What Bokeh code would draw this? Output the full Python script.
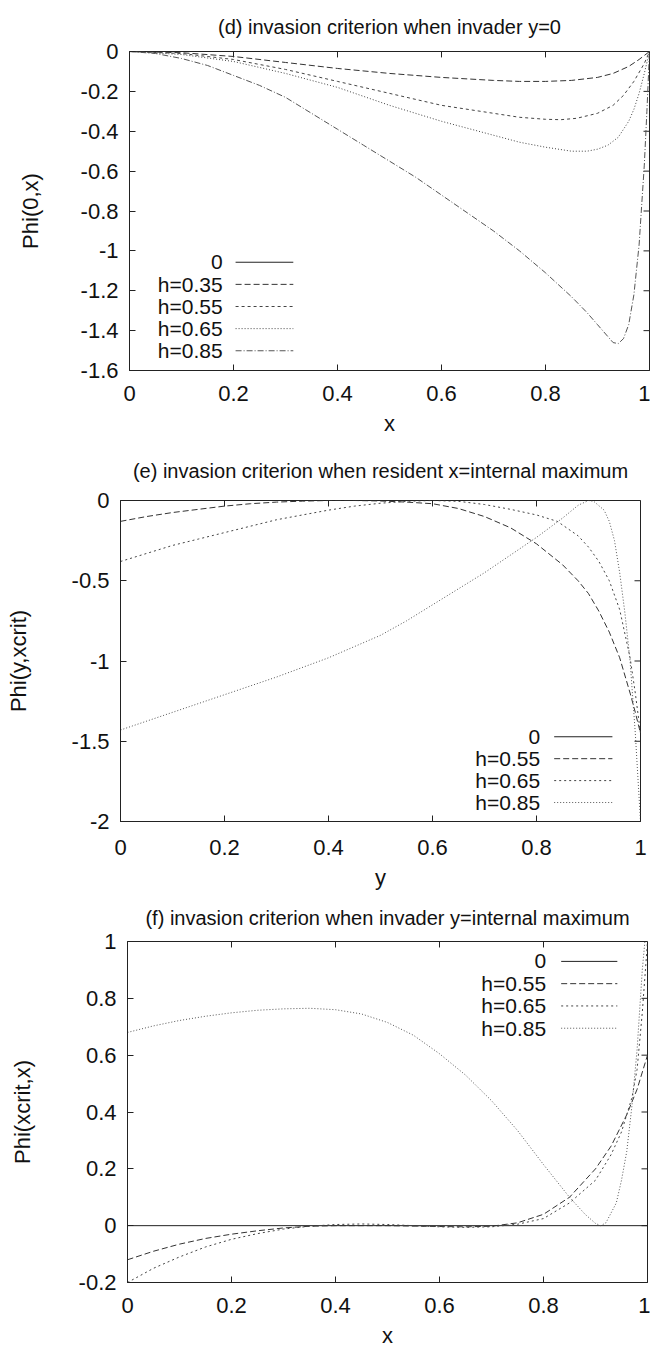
from bokeh.plotting import figure
from bokeh.models import Label, Range1d, FixedTicker, Arrow
from bokeh.embed import file_html
from bokeh.resources import INLINE

FONT = "Liberation Sans"
TITLE_FS = "20px"
TICK_FS = "22px"
LEG_FS = "21px"
AXLAB_FS = "22px"
FIG_W = 650

# ---------------- panel (d): Phi(0,x) ----------------
d_x_zero = [0.0, 1.0]
d_y_zero = [0.0, 0.0]
d_x_h035 = [0.0, 0.1, 0.2, 0.3, 0.4, 0.5, 0.6, 0.7, 0.75, 0.8, 0.85, 0.9, 0.93, 0.96, 0.98, 1.0]
d_y_h035 = [0.0, -0.006, -0.025, -0.055, -0.085, -0.11, -0.13, -0.145, -0.15, -0.15, -0.145, -0.13, -0.11, -0.075, -0.04, 0.0]
d_x_h055 = [0.0, 0.1, 0.2, 0.3, 0.4, 0.5, 0.6, 0.7, 0.75, 0.8, 0.83, 0.86, 0.9, 0.93, 0.95, 0.97, 0.99, 1.0]
d_y_h055 = [0.0, -0.01, -0.04, -0.09, -0.15, -0.21, -0.27, -0.31, -0.33, -0.34, -0.342, -0.335, -0.31, -0.27, -0.22, -0.15, -0.06, 0.0]
d_x_h065 = [0.0, 0.1, 0.2, 0.3, 0.4, 0.5, 0.6, 0.7, 0.75, 0.8, 0.85, 0.88, 0.9, 0.92, 0.94, 0.96, 0.97, 0.98, 0.99, 1.0]
d_y_h065 = [0.0, -0.015, -0.05, -0.11, -0.18, -0.27, -0.35, -0.42, -0.455, -0.48, -0.5, -0.5, -0.49, -0.47, -0.43, -0.35, -0.29, -0.21, -0.11, 0.0]
d_x_h085 = [0.0, 0.05, 0.1, 0.15, 0.2, 0.25, 0.3, 0.35, 0.4, 0.45, 0.5, 0.55, 0.6, 0.65, 0.7, 0.75, 0.8, 0.85,
            0.88, 0.9, 0.92, 0.93, 0.94, 0.95, 0.96, 0.97, 0.98, 0.99, 0.995, 1.0]
d_y_h085 = [0.0, -0.01, -0.035, -0.07, -0.12, -0.17, -0.23, -0.31, -0.39, -0.47, -0.55, -0.63, -0.72, -0.81, -0.9, -1.0, -1.11, -1.23,
            -1.31, -1.37, -1.43, -1.46, -1.465, -1.44, -1.37, -1.22, -0.97, -0.57, -0.3, 0.0]
d_labels = ["0", "h=0.35", "h=0.55", "h=0.65", "h=0.85"]
d_yticks = [0, -0.2, -0.4, -0.6, -0.8, -1, -1.2, -1.4, -1.6]

# ---------------- panel (e): Phi(y,xcrit) ----------------
e_x_zero = [0.0, 1.0]
e_y_zero = [0.0, 0.0]
e_x_h055 = [0.0, 0.05, 0.1, 0.15, 0.2, 0.25, 0.3, 0.35, 0.4, 0.45, 0.5, 0.55, 0.6, 0.65, 0.7, 0.75, 0.8, 0.85,
            0.88, 0.9, 0.92, 0.94, 0.96, 0.98, 0.99, 1.0]
e_y_h055 = [-0.13, -0.1, -0.075, -0.055, -0.035, -0.02, -0.01, -0.004, 0.0, 0.0, -0.003, -0.01, -0.02, -0.05, -0.1, -0.17, -0.27, -0.4,
            -0.5, -0.58, -0.69, -0.82, -0.98, -1.2, -1.32, -1.45]
e_x_h065 = [0.0, 0.05, 0.1, 0.15, 0.2, 0.25, 0.3, 0.35, 0.4, 0.45, 0.5, 0.55, 0.6, 0.65, 0.7, 0.75, 0.8, 0.84,
            0.88, 0.9, 0.92, 0.94, 0.96, 0.98, 0.99, 1.0]
e_y_h065 = [-0.38, -0.33, -0.28, -0.24, -0.2, -0.16, -0.12, -0.09, -0.06, -0.035, -0.017, -0.005, 0.0, -0.005, -0.025, -0.055, -0.09, -0.13,
            -0.22, -0.29, -0.38, -0.5, -0.68, -0.98, -1.2, -1.45]
e_x_h085 = [0.0, 0.1, 0.2, 0.3, 0.4, 0.5, 0.55, 0.6, 0.65, 0.7, 0.75, 0.8, 0.85, 0.88, 0.9, 0.91, 0.93, 0.94, 0.95,
            0.96, 0.97, 0.98, 0.99, 1.0]
e_y_h085 = [-1.43, -1.32, -1.21, -1.1, -0.98, -0.84, -0.75, -0.65, -0.55, -0.45, -0.34, -0.23, -0.11, -0.03, 0.0, -0.005, -0.06, -0.13, -0.25,
            -0.45, -0.7, -1.0, -1.45, -2.0]
e_labels = ["0", "h=0.55", "h=0.65", "h=0.85"]
e_yticks = [0, -0.5, -1, -1.5, -2]

# ---------------- panel (f): Phi(xcrit,x) ----------------
f_x_zero = [0.0, 1.0]
f_y_zero = [0.0, 0.0]
f_x_h055 = [0.0, 0.05, 0.1, 0.15, 0.2, 0.25, 0.3, 0.35, 0.4, 0.5, 0.6, 0.65, 0.7, 0.75, 0.8, 0.85, 0.9, 0.93, 0.96, 0.98, 1.0]
f_y_h055 = [-0.12, -0.09, -0.065, -0.045, -0.03, -0.018, -0.008, -0.002, 0.0, 0.0, -0.003, -0.004, -0.002, 0.01, 0.04, 0.1, 0.2, 0.28, 0.39, 0.48, 0.6]
f_x_h065 = [0.0, 0.05, 0.1, 0.15, 0.2, 0.25, 0.3, 0.35, 0.4, 0.45, 0.5, 0.55, 0.6, 0.65, 0.7, 0.75, 0.8, 0.85, 0.9, 0.93,
            0.95, 0.97, 0.98, 0.99, 1.0]
f_y_h065 = [-0.2, -0.15, -0.11, -0.075, -0.048, -0.028, -0.012, -0.002, 0.004, 0.006, 0.004, 0.0, -0.004, -0.006, -0.004, 0.005, 0.025, 0.08, 0.16, 0.25,
            0.33, 0.45, 0.55, 0.75, 1.0]
f_x_h085 = [0.0, 0.05, 0.1, 0.15, 0.2, 0.25, 0.3, 0.35, 0.4, 0.45, 0.5, 0.55, 0.6, 0.65, 0.7, 0.75, 0.8, 0.85, 0.88, 0.9,
            0.91, 0.92, 0.94, 0.95, 0.96, 0.97, 0.98, 0.99, 0.995]
f_y_h085 = [0.68, 0.703, 0.722, 0.737, 0.749, 0.758, 0.763, 0.765, 0.76, 0.745, 0.715, 0.67, 0.605, 0.53, 0.44, 0.335, 0.215, 0.1, 0.04, 0.008,
            0.0, 0.01, 0.08, 0.16, 0.26, 0.42, 0.62, 0.9, 1.0]
f_labels = ["0", "h=0.55", "h=0.65", "h=0.85"]
f_yticks = [1, 0.8, 0.6, 0.4, 0.2, 0, -0.2]

xticks = [0, 0.2, 0.4, 0.6, 0.8, 1]

TICK_LEN = 6  # px, gnuplot-style inward ticks


def make_panel(title, xlabel, ylabel, yrange, yticks, series, labels, styles, leg,
               height, borders, ylab_standoff, title_standoff, xtick_standoff, xlab_standoff):
    left, right, top, bottom = borders
    ylo, yhi = yrange
    fw = FIG_W - left - right
    fh = height - top - bottom
    p = figure(width=FIG_W, height=height, x_range=Range1d(0, 1), y_range=Range1d(ylo, yhi),
               output_backend="svg", toolbar_location=None,
               min_border_left=left, min_border_right=right,
               min_border_top=top, min_border_bottom=bottom,
               x_axis_label=xlabel, y_axis_label=ylabel)
    p.title.text = title
    p.title.align = "center"
    p.title.text_font = FONT
    p.title.text_font_size = TITLE_FS
    p.title.text_font_style = "normal"
    p.title.text_color = "#111111"
    p.title.standoff = title_standoff
    p.xgrid.visible = False
    p.ygrid.visible = False
    p.outline_line_color = "#222222"
    p.outline_line_width = 1
    p.background_fill_color = "white"
    p.border_fill_color = "white"

    for ax, ticks in ((p.xaxis[0], xticks), (p.yaxis[0], yticks)):
        ax.ticker = FixedTicker(ticks=ticks)
        ax.major_label_overrides = {t: "%g" % t for t in ticks}
        ax.major_tick_in = TICK_LEN
        ax.major_tick_out = 0
        ax.minor_tick_in = 0
        ax.minor_tick_out = 0
        ax.major_tick_line_color = "#222222"
        ax.axis_line_color = "#222222"
        ax.major_label_text_font = FONT
        ax.major_label_text_font_size = TICK_FS
        ax.major_label_text_color = "#111111"
        ax.axis_label_text_font = FONT
        ax.axis_label_text_font_size = AXLAB_FS
        ax.axis_label_text_font_style = "normal"
        ax.axis_label_text_color = "#111111"
    p.xaxis[0].major_label_standoff = xtick_standoff
    p.yaxis[0].major_label_standoff = 11
    p.yaxis[0].axis_label_standoff = ylab_standoff
    p.xaxis[0].axis_label_standoff = xlab_standoff

    # mirrored inward ticks on the top and right frame edges (derived from tick lists)
    dy = (yhi - ylo) * TICK_LEN / fh
    dx = 1.0 * TICK_LEN / fw
    p.segment(x0=xticks, y0=[yhi] * len(xticks), x1=xticks, y1=[yhi - dy] * len(xticks),
              line_color="#222222", line_width=1)
    p.segment(x0=[1.0] * len(yticks), y0=yticks, x1=[1.0 - dx] * len(yticks), y1=yticks,
              line_color="#222222", line_width=1)

    for (xs, ys), (color, dash) in zip(series, styles):
        p.line(xs, ys, line_color=color, line_width=1, line_dash=dash)

    # gnuplot-style key: right-aligned text, line sample to its right
    tx, lx0, lx1, y0, step = leg
    for i, (lab, (color, dash)) in enumerate(zip(labels, styles)):
        yy = y0 - i * step
        p.add_layout(Label(x=tx, y=yy, text=lab, text_align="right", text_baseline="middle",
                           text_font=FONT, text_font_size=LEG_FS, text_color="#111111"))
        p.add_layout(Arrow(x_start=lx0, y_start=yy, x_end=lx1, y_end=yy, end=None,
                           line_color=color, line_width=1, line_dash=dash))
    return p


d_styles = [("#222222", "solid"), ("#333333", "6 3"), ("#444444", "3 3"), ("#444444", "1 2"), ("#555555", "6 2 1 2")]
ef_styles = [("#222222", "solid"), ("#333333", "6 3"), ("#444444", "2 3"), ("#555555", "1 2")]

pd_ = make_panel("(d) invasion criterion when invader y=0", "x", "Phi(0,x)", (-1.6, 0), d_yticks,
                 [(d_x_zero, d_y_zero), (d_x_h035, d_y_h035), (d_x_h055, d_y_h055),
                  (d_x_h065, d_y_h065), (d_x_h085, d_y_h085)],
                 d_labels, d_styles, (0.179, 0.204, 0.315, -1.057, 0.111),
                 438, (129, 1, 48, 66), 35, 27, 15, 7)

pe_ = make_panel("(e) invasion criterion when resident x=internal maximum", "y", "Phi(y,xcrit)", (-2, 0), e_yticks,
                 [(e_x_zero, e_y_zero), (e_x_h055, e_y_h055), (e_x_h065, e_y_h065), (e_x_h085, e_y_h085)],
                 e_labels, ef_styles, (0.807, 0.834, 0.946, -1.472, 0.1366),
                 454, (120, 10, 62, 70), 38, 37, 18, 7)

pf_ = make_panel("(f) invasion criterion when invader y=internal maximum", "x", "Phi(xcrit,x)", (-0.2, 1), f_yticks,
                 [(f_x_zero, f_y_zero), (f_x_h055, f_y_h055), (f_x_h065, f_y_h065), (f_x_h085, f_y_h085)],
                 f_labels, ef_styles, (0.805, 0.834, 0.942, 0.93, 0.0784),
                 460, (127, 3, 48, 70), 41, 25, 15, 7)

# separate roots so each panel keeps its own frame position (no frame alignment)
open("out.html", "w").write(file_html([pd_, pe_, pf_], INLINE))
